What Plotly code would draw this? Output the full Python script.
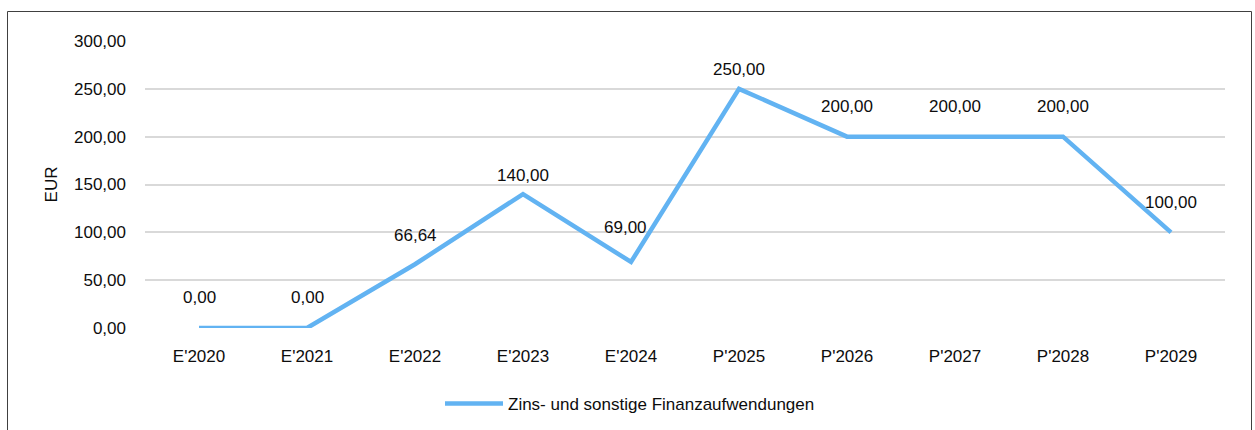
import plotly.graph_objects as go

categories = ["E'2020", "E'2021", "E'2022", "E'2023", "E'2024",
              "P'2025", "P'2026", "P'2027", "P'2028", "P'2029"]
values = [0.00, 0.00, 66.64, 140.00, 69.00, 250.00, 200.00, 200.00, 200.00, 100.00]
series_name = "Zins- und sonstige Finanzaufwendungen"
y_ticks = [0, 50, 100, 150, 200, 250, 300]

# label offsets (px) - styling only
label_shift = [31, 31, 29, 19, 34, 19, 30, 30, 30, 30]
label_xshift = [0, 0, 0, 0, -6, 0, 0, 0, 0, 0]

def de_fmt(v):
    return f"{v:,.2f}".replace(",", "X").replace(".", ",").replace("X", ".")

FONT = "Liberation Sans, Arial, sans-serif"
FS = 17
TXT = "#0d0d0d"
LINE = "#62B3F2"

W, H = 1255, 430
L, R, T, B = 145, 30, 41, 102

fig = go.Figure()
fig.add_trace(go.Scatter(
    x=categories, y=values, mode="lines", name=series_name,
    line=dict(color=LINE, width=4.5),
    showlegend=True,
))

for c, v, s, xs in zip(categories, values, label_shift, label_xshift):
    fig.add_annotation(x=c, y=v, text=de_fmt(v), showarrow=False,
                       yshift=s, xshift=xs,
                       font=dict(family=FONT, size=FS, color=TXT))

pw, ph = W - L - R, H - T - B
def px2paper_x(px):
    return (px - L) / pw
def px2paper_y(py):
    return (H - B - py) / ph

fig.add_shape(type="rect", xref="paper", yref="paper",
              x0=px2paper_x(7.5), x1=px2paper_x(1251.5),
              y0=px2paper_y(440), y1=px2paper_y(11.5),
              line=dict(color="#404040", width=1), fillcolor="rgba(0,0,0,0)",
              layer="below")

fig.update_layout(
    width=W, height=H,
    margin=dict(l=L, r=R, t=T, b=B, pad=0, autoexpand=False),
    paper_bgcolor="white", plot_bgcolor="white",
    font=dict(family=FONT, size=FS, color=TXT),
    showlegend=True,
    legend=dict(orientation="h", x=px2paper_x(440), xanchor="left",
                y=px2paper_y(404), yanchor="middle",
                itemwidth=58,
                font=dict(family=FONT, size=FS, color=TXT),
                bgcolor="rgba(0,0,0,0)"),
    xaxis=dict(type="category", range=[-0.5, len(categories) - 0.5],
               showgrid=False, zeroline=False, showline=False,
               ticks="", ticklabelstandoff=16, automargin=False,
               tickfont=dict(family=FONT, size=FS, color=TXT)),
    yaxis=dict(range=[0, 300], tickvals=y_ticks,
               ticktext=[de_fmt(v) for v in y_ticks],
               showgrid=True, gridcolor="#D9D9D9", gridwidth=1.5,
               zeroline=False, showline=False, ticks="",
               ticklabelstandoff=18, automargin=False,
               tickfont=dict(family=FONT, size=FS, color=TXT),
               title=dict(text="EUR", standoff=12,
                          font=dict(family=FONT, size=FS, color=TXT))),
)

fig.write_html("out.html", config={"displayModeBar": False},
               post_script="document.body.style.margin='0';document.body.style.padding='0';")
